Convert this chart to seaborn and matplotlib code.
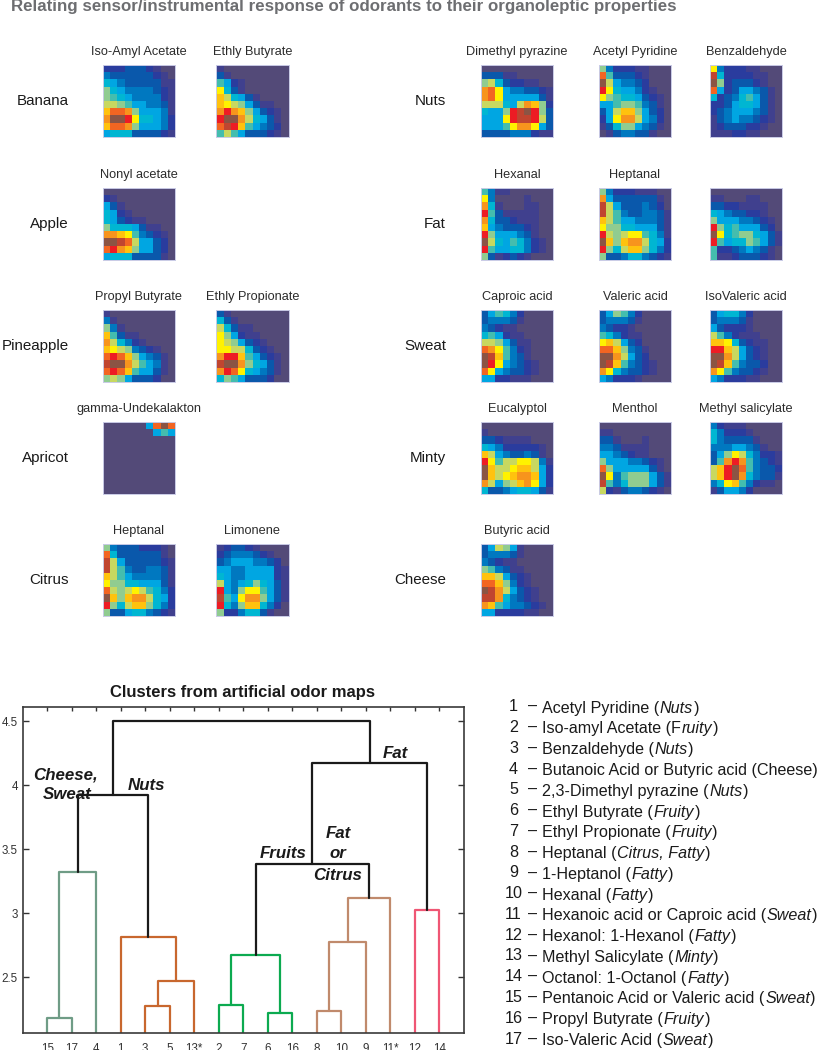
import matplotlib
matplotlib.use("Agg")
import matplotlib.pyplot as plt
from matplotlib.colors import ListedColormap
import numpy as np
import seaborn as sns

# ---------- data: colour-level index per cell, base-17 digit (0..g) ----------
LEVEL_COLORS = ["#534a78", "#40408e", "#2a3c9e", "#0a58ab", "#0078c0", "#00a6e2", "#00b6d2",
                "#44bdae", "#90cc90", "#c8d860", "#fff200", "#ffc20e", "#f7941d", "#f26522",
                "#ed1c24", "#c04530", "#8b5444"]

iso_amyl = ["2223332100","4333333210","6543333311","8654444321","8765444421","9987554431","bddc855541","cggea66542","bddc855542","5666333321"]
ethyl_butyrate = ["1000000000","3100000000","7521000000","a631000000","b965310000","ba98531100","cecb853210","eggc965310","dfeb754320","7975333210"]
nonyl_acetate = ["0000000000","2100000000","5310000000","6521000000","6532110000","8666531100","ccba743210","ggfd955320","decb855320","5666333310"]
propyl_butyrate = ["1000000000","4100000000","8410000000","b731100000","c964210000","ba98432100","dedb854310","fggc975410","dedb755310","8985333200"]
ethyl_propionate = ["3100000000","6310000000","9631100000","a852110000","a985321000","aa99632100","ceeb753210","fggc865310","ceda654310","6875333200"]
gamma_undecalactone = ["000000 5dgd".replace(" ", ""),"0000000575","0000000000","0000000000","0000000000","0000000000","0000000000","0000000000","0000000000","0000000000"]
heptanal = ["8433322210","d633333310","f953333321","f974334431","b975444431","a886655531","d989a97642","gb8bcc9652","e869bb8642","8335664321"]
limonene = ["1233210000","2344432100","3455544320","5544555521","6544555521","9545686531","e548aa7531","f75acc8531","e648bb6420","8224663100"]
dimethyl_pyrazine = ["0000000000","3331100000","8963221100","cda5443321","cda5555531","9996 59cb82".replace(" ", "")[:10],"6558efge83","555aeffe93","5557acca53","3333444211"]
acetyl_pyridine = ["8422211000","d733321000","g954432000","ea65542100","a876653210","5578874310","359bb85320","25acc95420","1368854310","0134433100"]
benzaldehyde = ["a422211000","f622221100","g823332100","d523554310","6234675310","2235665310","2345554310","1345443210","1233322100","1112211000"]
hexanal = ["7411000000","a400001000","c610001100","e731111100","c633211100","b543332100","e855543100","g965764210","e755664210","8312321000"]
fat_heptanal = ["8422211100","c533333310","f953334320","f974334431","b975544431","a886655531","e989aa7641","gb8bcc9652","e869bb8642","8334664321"]
fat_third = ["0000000000","1100011000","3322111100","6543322100","8555443210","e867555320","ga67886531","e756687531","7223454310","7112333210"]
caproic = ["3576420000","3444310000","4321100000","6752110000","9985311000","dca7421000","gfb7431000","gea5432100","da54332100","5522111000"]
valeric = ["3587420000","3444310000","4322100000","7642110000","ab95320000","ddb8431000","ggc9532000","gfb7432100","ca64332100","5422210000"]
isovaleric = ["3566420000","3444310000","5322210000","9742111000","bba6321100","eeb9532100","ggc9532100","gfb7433200","ca74332100","5422211000"]
eucalyptol = ["0000000000","1000000000","3321111000","6542222210","b954334310","ea799aa941","gb99abb952","gb9abccb52","c9589bca52","6334566531"]
menthol = ["0000000000","1100000000","3310001000","4431111000","5543211000","8555443210","d855555310","ga47888531","f746888531","9213443210"]
methyl_salicylate = ["4211100000","6422210000","6433331000","4445543100","3 58a9642 21".replace(" ", ""),"37cec74321","9begd74332","9begc64331","46ab742110","1355420000"]
butyric = ["3598510000","3444310000","4321100000","8743110000","bb95321000","ddb8421000","gfc9532100","ffc6432100","cb75443210","5522221100"]

ROW_LABELS_LEFT = ["Banana", "Apple", "Pineapple", "Apricot", "Citrus"]
ROW_LABELS_RIGHT = ["Nuts", "Fat", "Sweat", "Minty", "Cheese"]

PANELS_LEFT = [
    [("Iso-Amyl Acetate", iso_amyl), ("Ethly Butyrate", ethyl_butyrate)],
    [("Nonyl acetate", nonyl_acetate)],
    [("Propyl Butyrate", propyl_butyrate), ("Ethly Propionate", ethyl_propionate)],
    [("gamma-Undekalakton", gamma_undecalactone)],
    [("Heptanal", heptanal), ("Limonene", limonene)],
]
PANELS_RIGHT = [
    [("Dimethyl pyrazine", dimethyl_pyrazine), ("Acetyl Pyridine", acetyl_pyridine), ("Benzaldehyde", benzaldehyde)],
    [("Hexanal", hexanal), ("Heptanal", fat_heptanal), ("", fat_third)],
    [("Caproic acid", caproic), ("Valeric acid", valeric), ("IsoValeric acid", isovaleric)],
    [("Eucalyptol", eucalyptol), ("Menthol", menthol), ("Methyl salicylate", methyl_salicylate)],
    [("Butyric acid", butyric)],
]

# dendrogram: leaf order, and each link as (left child, right child, height, colour key)
LEAF_LABELS = ["15", "17", "4", "1", "3", "5", "13*", "2", "7", "6", "16", "8", "10", "9", "11*", "12", "14"]
LINKS = [
    ("a", "15", "17", 2.18, "sage"), ("b", "a", "4", 3.32, "sage"),
    ("c", "3", "5", 2.27, "rust"), ("d", "c", "13*", 2.465, "rust"), ("e", "1", "d", 2.81, "rust"),
    ("f", "b", "e", 3.925, "black"),
    ("g", "2", "7", 2.285, "green"), ("h", "6", "16", 2.22, "green"), ("i", "g", "h", 2.675, "green"),
    ("j", "8", "10", 2.235, "tan"), ("k", "j", "9", 2.775, "tan"), ("l", "k", "11*", 3.115, "tan"),
    ("m", "i", "l", 3.38, "black"),
    ("n", "12", "14", 3.02, "pink"), ("o", "m", "n", 4.17, "black"),
    ("p", "f", "o", 4.5, "black"),
]
LINK_COLORS = {"sage": "#6f9c86", "rust": "#c8672e", "green": "#0caa50", "tan": "#c08a6c",
               "pink": "#ef5674", "black": "#1a1a1a"}
Y_TICKS = [2.5, 3, 3.5, 4, 4.5]
Y_TICK_LABELS = ["2.5", "3", "3.5", "4", "4.5"]

LEGEND_NUMBERS = [str(i) for i in range(1, 18)]
LEGEND_SEGMENTS = [
    [("Acetyl Pyridine (", 0), ("Nuts", 1), (")", 0)],
    [("Iso-amyl Acetate (F", 0), ("ruity", 1), (")", 0)],
    [("Benzaldehyde (", 0), ("Nuts", 1), (")", 0)],
    [("Butanoic Acid or Butyric acid (Cheese)", 0)],
    [("2,3-Dimethyl pyrazine (", 0), ("Nuts", 1), (")", 0)],
    [("Ethyl Butyrate (", 0), ("Fruity", 1), (")", 0)],
    [("Ethyl Propionate (", 0), ("Fruity", 1), (")", 0)],
    [("Heptanal (", 0), ("Citrus, Fatty", 1), (")", 0)],
    [("1-Heptanol (", 0), ("Fatty", 1), (")", 0)],
    [("Hexanal (", 0), ("Fatty", 1), (")", 0)],
    [("Hexanoic acid or Caproic acid (", 0), ("Sweat", 1), (")", 0)],
    [("Hexanol: 1-Hexanol (", 0), ("Fatty", 1), (")", 0)],
    [("Methyl Salicylate (", 0), ("Minty", 1), (")", 0)],
    [("Octanol: 1-Octanol (", 0), ("Fatty", 1), (")", 0)],
    [("Pentanoic Acid or Valeric acid (", 0), ("Sweat", 1), (")", 0)],
    [("Propyl Butyrate (", 0), ("Fruity", 1), (")", 0)],
    [("Iso-Valeric Acid (", 0), ("Sweat", 1), (")", 0)],
]

# ---------- figure ----------
sns.set_style("white")
plt.rcParams["font.family"] = ["Liberation Sans", "DejaVu Sans"]
W, H = 837, 1050
fig = plt.figure(figsize=(W / 100, H / 100), dpi=100, facecolor="white")
cmap = ListedColormap(LEVEL_COLORS)


def add_axes_px(x0, y0, x1, y1):
    return fig.add_axes([x0 / W, 1 - y1 / H, (x1 - x0) / W, (y1 - y0) / H])


def text_px(x, y, s, **kw):
    return fig.text(x / W, 1 - y / H, s, **kw)


def to_matrix(rows):
    return np.array([[int(c, 17) for c in r] for r in rows])


def draw_map(x0, y0, title, rows):
    ax = add_axes_px(x0, y0, x0 + 72, y0 + 72)
    sns.heatmap(to_matrix(rows), ax=ax, cmap=cmap, vmin=-0.5, vmax=16.5, cbar=False,
                square=False, xticklabels=False, yticklabels=False)
    for s in ax.spines.values():
        s.set_visible(True)
        s.set_color("#c9cbe6")
        s.set_linewidth(0.7)
    if title:
        text_px(x0 + 36, y0 - 13, title, ha="center", va="center", fontsize=9.2, color="#2b2b2b")


ROW_Y = [65, 188, 310, 422, 544]
LEFT_X = [103, 216.5]
RIGHT_X = [481, 599, 710]

for y0, label, panels in zip(ROW_Y, ROW_LABELS_LEFT, PANELS_LEFT):
    text_px(69, y0 + 36, label, ha="right", va="center", fontsize=10.9, color="#1a1a1a")
    for x0, (title, rows) in zip(LEFT_X, panels):
        draw_map(x0, y0, title, rows)

for y0, label, panels in zip(ROW_Y, ROW_LABELS_RIGHT, PANELS_RIGHT):
    text_px(446, y0 + 36, label, ha="right", va="center", fontsize=10.9, color="#1a1a1a")
    for x0, (title, rows) in zip(RIGHT_X, panels):
        draw_map(x0, y0, title, rows)

# fix: last-row title offsets in the reference are nearly the same as the default
text_px(11, 7, "Relating sensor/instrumental response of odorants to their organoleptic properties",
        ha="left", va="center", fontsize=12.2, fontweight="bold", color="#6d6e71")

# ---------- dendrogram ----------
ax = add_axes_px(22.7, 707, 464, 1033)
pos = {name: (i + 1.0, 2.0625) for i, name in enumerate(LEAF_LABELS)}
for name, left, right, h, ckey in LINKS:
    x1, h1 = pos[left]
    x2, h2 = pos[right]
    sns.lineplot(x=[x1, x1, x2, x2], y=[h1, h, h, h2], sort=False, estimator=None, ax=ax,
                 color=LINK_COLORS[ckey], linewidth=1.6, legend=False)
    pos[name] = ((x1 + x2) / 2, h)
ax.set_xlim(0, 18)
ax.set_ylim(2.0625, 4.61)
ax.set_xlabel("")
ax.set_ylabel("")
ax.set_xticks(range(1, 18))
ax.set_xticklabels(LEAF_LABELS)
ax.set_yticks(Y_TICKS)
ax.set_yticklabels(Y_TICK_LABELS)
ax.tick_params(axis="x", direction="in", length=3, width=1, top=True, bottom=False, pad=7,
               labelsize=8.4, labelcolor="#333333", color="#333333")
ax.tick_params(axis="y", direction="in", length=4, width=1, left=True, right=True, pad=3.5,
               labelsize=8.4, labelcolor="#333333", color="#333333")
for s in ax.spines.values():
    s.set_visible(True)
    s.set_color("#3a3a3a")
    s.set_linewidth(1.2)

ann = dict(ha="center", va="center", fontsize=12.2, fontweight="bold", fontstyle="italic", color="#1a1a1a")
text_px(66, 774.5, "Cheese,", **ann)
text_px(67, 785 + 0, "", **ann)
text_px(67, 785 + 9.5, "Sweat", **ann)
text_px(146, 785 + 0, "", **ann)
text_px(146, 785 + 0, "Nuts", **ann)
text_px(395, 753, "Fat", **ann)
text_px(283, 854, "Fruits", **ann)
text_px(338, 834, "Fat", **ann)
text_px(338, 854, "or", **ann)
text_px(338, 875, "Citrus", **ann)
text_px(243, 693, "Clusters from artificial odor maps", ha="center", va="center",
        fontsize=12, fontweight="bold", color="#1a1a1a")

# ---------- numbered key ----------
renderer = fig.canvas.get_renderer()
KEY_FONT = 11.6
for i, (num, segs) in enumerate(zip(LEGEND_NUMBERS, LEGEND_SEGMENTS)):
    y = 706.7 + i * 20.77
    text_px(505 if len(num) == 2 else 509, y, num, ha="left", va="center", fontsize=KEY_FONT, color="#1a1a1a")
    text_px(528, y, "\u2013", ha="left", va="center", fontsize=KEY_FONT, color="#1a1a1a")
    x = 542.5
    for seg, italic in segs:
        t = text_px(x, y, seg, ha="left", va="center_baseline", fontsize=KEY_FONT, color="#1a1a1a",
                    fontstyle="italic" if italic else "normal")
        x = t.get_window_extent(renderer).x1 + 0.3

fig.savefig("out.png", dpi=100, facecolor="white")
